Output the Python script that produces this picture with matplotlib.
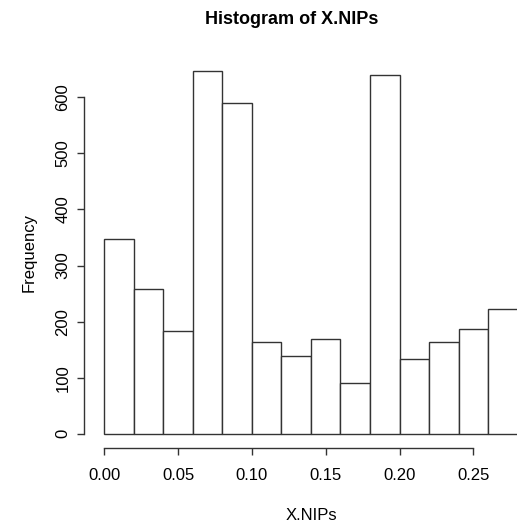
import matplotlib.pyplot as plt

# histogram counts, bins of width 0.02 starting at 0
bin_edges = [0.00, 0.02, 0.04, 0.06, 0.08, 0.10, 0.12, 0.14,
             0.16, 0.18, 0.20, 0.22, 0.24, 0.26, 0.28]
counts = [348, 258, 183, 647, 589, 164, 139, 169, 91, 640, 133, 164, 186, 222]
x_ticks = [0.00, 0.05, 0.10, 0.15, 0.20, 0.25]
x_tick_labels = ["0.00", "0.05", "0.10", "0.15", "0.20", "0.25"]
y_ticks = [0, 100, 200, 300, 400, 500, 600]

plt.rcParams['font.family'] = ['Liberation Sans', 'DejaVu Sans']

W, H = 517, 528
fig = plt.figure(figsize=(W / 100, H / 100), dpi=100)
ax = fig.add_axes([84.3 / W, 1 - 447.5 / H, 1 - 84.3 / W, (447.5 - 56.4) / H])

ax.bar(bin_edges[:-1], counts, width=0.02, align='edge',
       facecolor='white', edgecolor='#333333', linewidth=1.0)

ax.set_xlim(-0.01355, 0.2796)
ax.set_ylim(-24.6, 673)

for s in ['top', 'right']:
    ax.spines[s].set_visible(False)
ax.spines['bottom'].set_bounds(0, 0.25)
ax.spines['left'].set_bounds(0, 600)
for s in ['bottom', 'left']:
    ax.spines[s].set_color('#333333')
    ax.spines[s].set_linewidth(1.0)

ax.set_xticks(x_ticks)
ax.set_xticklabels(x_tick_labels)
ax.set_yticks(y_ticks)
ax.tick_params(length=5, width=1.0, color='#333333', labelsize=12)
ax.tick_params(axis='x', pad=10)
ax.tick_params(axis='y', pad=5, labelrotation=90)
for lab in ax.get_yticklabels():
    lab.set_va('center')

fig.text(292 / W, 1 - 19 / H, "Histogram of X.NIPs", ha='center', va='center',
         fontsize=13, fontweight='bold')
fig.text(311 / W, 1 - 515 / H, "X.NIPs", ha='center', va='center', fontsize=12)
fig.text(29 / W, 1 - 252 / H, "Frequency", ha='center', va='center',
         fontsize=12, rotation=90)

fig.savefig('out.png', dpi=100)
